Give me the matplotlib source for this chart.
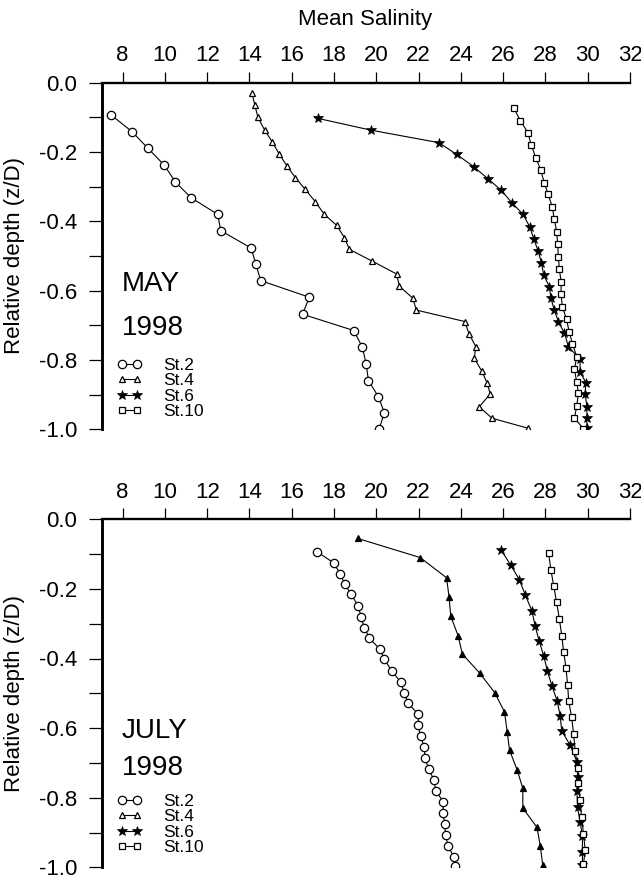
import matplotlib
matplotlib.use("Agg")
import matplotlib.pyplot as plt
from matplotlib.ticker import MultipleLocator, FuncFormatter

plt.rcParams['font.family'] = ['Liberation Sans', 'DejaVu Sans']
plt.rcParams['axes.unicode_minus'] = False

# ---------------- data ----------------
# MAY 1998
may_st2_d = [-0.093, -0.141, -0.188, -0.238, -0.287, -0.332, -0.380, -0.427, -0.477, -0.523,
             -0.571, -0.619, -0.668, -0.715, -0.763, -0.812, -0.860, -0.906, -0.952, -0.998]
may_st2_s = [7.45, 8.44, 9.18, 9.97, 10.50, 11.24, 12.50, 12.64, 14.08, 14.30,
             14.53, 16.83, 16.51, 18.93, 19.34, 19.52, 19.63, 20.10, 20.38, 20.14]

may_st4_d = [-0.031, -0.064, -0.100, -0.137, -0.170, -0.206, -0.240, -0.274, -0.308, -0.343,
             -0.379, -0.412, -0.447, -0.481, -0.514, -0.552, -0.587, -0.622, -0.656, -0.689,
             -0.725, -0.762, -0.795, -0.831, -0.865, -0.898, -0.935, -0.968, -0.997]
may_st4_s = [14.12, 14.25, 14.40, 14.72, 15.07, 15.41, 15.77, 16.17, 16.64, 17.11,
             17.53, 18.13, 18.49, 18.73, 19.78, 20.96, 21.09, 21.73, 21.89, 24.18,
             24.39, 24.71, 24.63, 24.98, 25.23, 25.39, 24.87, 25.47, 27.18]

may_st6_d = [-0.103, -0.137, -0.173, -0.207, -0.242, -0.278, -0.310, -0.346, -0.380, -0.415,
             -0.452, -0.485, -0.519, -0.555, -0.588, -0.622, -0.656, -0.689, -0.723, -0.762,
             -0.798, -0.834, -0.865, -0.898, -0.935, -0.968, -0.997]
may_st6_s = [17.24, 19.75, 22.96, 23.80, 24.60, 25.30, 25.90, 26.41, 26.94, 27.25,
             27.46, 27.65, 27.81, 27.92, 28.18, 28.26, 28.42, 28.61, 28.90, 29.09,
             29.64, 29.64, 29.91, 29.88, 29.96, 29.96, 29.96]

may_st10_d = [-0.074, -0.110, -0.144, -0.180, -0.216, -0.252, -0.288, -0.322, -0.358, -0.394,
              -0.430, -0.466, -0.502, -0.538, -0.574, -0.610, -0.646, -0.683, -0.718, -0.754,
              -0.790, -0.827, -0.863, -0.896, -0.933, -0.968, -0.998]
may_st10_s = [26.51, 26.82, 27.17, 27.33, 27.54, 27.78, 27.94, 28.13, 28.32, 28.42,
              28.53, 28.58, 28.61, 28.66, 28.74, 28.74, 28.80, 29.00, 29.12, 29.28,
              29.48, 29.37, 29.48, 29.56, 29.48, 29.37, 29.80]

# JULY 1998
jul_st2_d = [-0.093, -0.125, -0.157, -0.187, -0.216, -0.249, -0.282, -0.311, -0.342, -0.373,
             -0.402, -0.435, -0.467, -0.498, -0.529, -0.560, -0.591, -0.623, -0.655, -0.687,
             -0.718, -0.749, -0.780, -0.811, -0.843, -0.876, -0.907, -0.939, -0.970, -0.995]
jul_st2_s = [17.19, 17.98, 18.29, 18.52, 18.81, 19.15, 19.28, 19.44, 19.67, 20.17,
             20.38, 20.72, 21.15, 21.32, 21.51, 21.98, 21.98, 22.09, 22.27, 22.30,
             22.48, 22.73, 22.81, 23.16, 23.16, 23.23, 23.28, 23.39, 23.67, 23.71]

jul_st4_d = [-0.055, -0.110, -0.168, -0.222, -0.278, -0.335, -0.387, -0.442, -0.498, -0.553,
             -0.610, -0.663, -0.720, -0.773, -0.830, -0.885, -0.940, -0.993]
jul_st4_s = [19.12, 22.08, 23.32, 23.44, 23.52, 23.87, 24.07, 24.89, 25.60, 26.06,
             26.19, 26.30, 26.66, 26.93, 26.93, 27.60, 27.76, 27.87]

jul_st6_d = [-0.087, -0.131, -0.174, -0.218, -0.263, -0.306, -0.349, -0.393, -0.435, -0.478,
             -0.521, -0.565, -0.608, -0.649, -0.697, -0.740, -0.780, -0.828, -0.869, -0.910,
             -0.955, -0.993]
jul_st6_s = [25.89, 26.35, 26.77, 27.05, 27.36, 27.51, 27.70, 27.92, 28.09, 28.30,
             28.55, 28.70, 28.77, 29.17, 29.49, 29.52, 29.49, 29.52, 29.64, 29.75,
             29.75, 29.75]

jul_st10_d = [-0.098, -0.146, -0.191, -0.239, -0.287, -0.334, -0.380, -0.426, -0.476, -0.522,
              -0.569, -0.617, -0.666, -0.714, -0.759, -0.807, -0.856, -0.904, -0.950, -0.990]
jul_st10_s = [28.15, 28.26, 28.39, 28.53, 28.66, 28.77, 28.86, 28.97, 29.05, 29.10,
              29.24, 29.33, 29.41, 29.52, 29.55, 29.64, 29.71, 29.80, 29.88, 29.80]

station_labels = ["St.2", "St.4", "St.6", "St.10"]
x_ticks = [8, 10, 12, 14, 16, 18, 20, 22, 24, 26, 28, 30, 32]
y_ticks = [0.0, -0.2, -0.4, -0.6, -0.8, -1.0]

# ---------------- figure ----------------
W, H = 641, 880
fig = plt.figure(figsize=(W / 100, H / 100), dpi=100)

left_px, right_px = 101.5, 630.0
ax_top = fig.add_axes([left_px / W, 1 - 429.3 / H, (right_px - left_px) / W, 346.6 / H])
ax_bot = fig.add_axes([left_px / W, 1 - 867.3 / H, (right_px - left_px) / W, 348.0 / H])

styles = [
    dict(marker='o', ms=6.0, mfc='white', mec='black', mew=0.9),
    dict(marker='^', ms=5.0, mfc='white', mec='black', mew=0.9),
    dict(marker='*', ms=7.0, mfc='black', mec='black', mew=0.5),
    dict(marker='s', ms=4.0, mfc='white', mec='black', mew=0.9),
]


def style_axes(ax):
    ax.set_xlim(7, 32)
    ax.set_ylim(-1.0, 0.0)
    for s in ['right', 'bottom']:
        ax.spines[s].set_visible(False)
    ax.spines['top'].set_linewidth(1.7)
    ax.spines['left'].set_linewidth(2.1)
    ax.xaxis.set_ticks_position('top')
    ax.xaxis.set_label_position('top')
    ax.set_xticks(x_ticks)
    ax.set_yticks(y_ticks)
    ax.yaxis.set_minor_locator(MultipleLocator(0.1))
    ax.yaxis.set_major_formatter(FuncFormatter(lambda v, p: f"{v:.1f}" if abs(v) > 1e-9 else "0.0"))
    ax.tick_params(axis='x', which='major', direction='out', length=8, width=0.9,
                   pad=4, labelsize=16)
    ax.tick_params(axis='y', which='major', direction='out', length=9.5, width=0.9,
                   pad=8, labelsize=16)
    ax.tick_params(axis='y', which='minor', direction='out', length=9.5, width=0.9)


def draw_panel(ax, series, month, ym, yy, yleg):
    for (s, d), st, lab in zip(series, styles, station_labels):
        ax.plot(s, d, color='black', lw=0.8, label=lab, **st)
    style_axes(ax)
    ax.text(0.038, ym, month, transform=ax.transAxes,
            fontsize=20, ha='left', va='center')
    ax.text(0.038, yy, "1998", transform=ax.transAxes,
            fontsize=20, ha='left', va='center')
    ax.legend(loc='upper left', bbox_to_anchor=(0.028, yleg), frameon=False,
              numpoints=2, handlelength=1.5, handletextpad=1.2, labelspacing=0.02,
              borderpad=0, borderaxespad=0, fontsize=12.5)


draw_panel(ax_top, [(may_st2_s, may_st2_d), (may_st4_s, may_st4_d),
                    (may_st6_s, may_st6_d), (may_st10_s, may_st10_d)],
           "MAY", 0.418, 0.291, 0.207)
draw_panel(ax_bot, [(jul_st2_s, jul_st2_d), (jul_st4_s, jul_st4_d),
                    (jul_st6_s, jul_st6_d), (jul_st10_s, jul_st10_d)],
           "JULY", 0.392, 0.284, 0.212)

# July triangles appear filled
ax_bot.lines[1].set_markerfacecolor('black')

fig.text(365 / W, 1 - 20 / H, "Mean Salinity", fontsize=16, ha='center', va='center')
fig.text(15 / W, 1 - 256 / H, "Relative depth (z/D)", fontsize=16, rotation=90,
         ha='center', va='center')
fig.text(15 / W, 1 - 693 / H, "Relative depth (z/D)", fontsize=16, rotation=90,
         ha='center', va='center')

fig.savefig("out.png", dpi=100)
